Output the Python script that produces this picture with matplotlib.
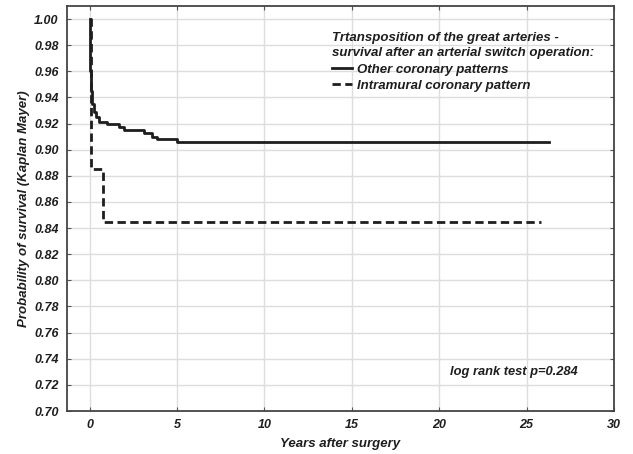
import matplotlib
matplotlib.use('Agg')
import matplotlib.pyplot as plt

plt.rcParams['font.family'] = ['Liberation Sans', 'DejaVu Sans']
plt.rcParams['font.weight'] = 'bold'
plt.rcParams['font.style'] = 'italic'
plt.rcParams['axes.labelweight'] = 'bold'

# Kaplan-Meier steps (years, survival)
other_t = [0, 0.03, 0.08, 0.15, 0.22, 0.35, 0.56, 0.98, 1.65, 1.94, 3.08, 3.56, 3.85, 4.99, 26.3]
other_s = [1.0, 0.96, 0.945, 0.935, 0.929, 0.925, 0.921, 0.920, 0.9175, 0.915, 0.9125, 0.910, 0.908, 0.906, 0.906]

intra_t = [0, 0.05, 0.79, 25.85]
intra_s = [1.0, 0.885, 0.845, 0.845]

xticks = [0, 5, 10, 15, 20, 25, 30]
yticks = [0.70, 0.72, 0.74, 0.76, 0.78, 0.80, 0.82, 0.84, 0.86, 0.88, 0.90,
          0.92, 0.94, 0.96, 0.98, 1.00]

ink = '#1e1e1e'

fig = plt.figure(figsize=(6.33, 4.54), dpi=100)
ax = fig.add_axes([0.1058, 0.0947, 0.8642, 0.8921])

ax.step(other_t, other_s, where='post', color=ink, lw=2,
        label='Other coronary patterns')
ax.step(intra_t, intra_s, where='post', color=ink, lw=2, dashes=(3, 1.6),
        label='Intramural coronary pattern')

ax.set_xlim(-1.3, 30)
ax.set_ylim(0.70, 1.01)
ax.set_xticks(xticks)
ax.set_yticks(yticks)
ax.set_yticklabels(['%.2f' % v for v in yticks])
ax.grid(True, color='#dddddd', lw=1)
ax.set_axisbelow(True)
ax.tick_params(direction='in', top=True, right=True, length=3, color='#555555',
               labelsize=9, labelcolor=ink, pad=6)
for s in ax.spines.values():
    s.set_color('#444444')
    s.set_linewidth(1.3)

ax.set_xlabel('Years after surgery', fontsize=9.5, color=ink, labelpad=5)
ax.set_ylabel('Probability of survival (Kaplan Mayer)', fontsize=9.5, color=ink,
              labelpad=3)

leg = ax.legend(loc='upper left', bbox_to_anchor=(0.485, 0.935), frameon=False,
                title='Trtansposition of the great arteries -\n'
                      'survival after an arterial switch operation:',
                fontsize=9.5, handlelength=1.5, handletextpad=0.4,
                labelspacing=0.3, borderpad=0, borderaxespad=0,
                title_fontproperties={'weight': 'bold', 'style': 'italic', 'size': 9.5})
leg._legend_box.align = 'left'
leg._legend_box.sep = 3
leg.get_title().set_color(ink)
leg.get_title().set_linespacing(1.35)
for t in leg.get_texts():
    t.set_color(ink)

ax.text(0.934, 0.097, 'log rank test p=0.284', transform=ax.transAxes,
        ha='right', va='center', fontsize=9.3, color=ink)

fig.savefig('out.png', dpi=100)
